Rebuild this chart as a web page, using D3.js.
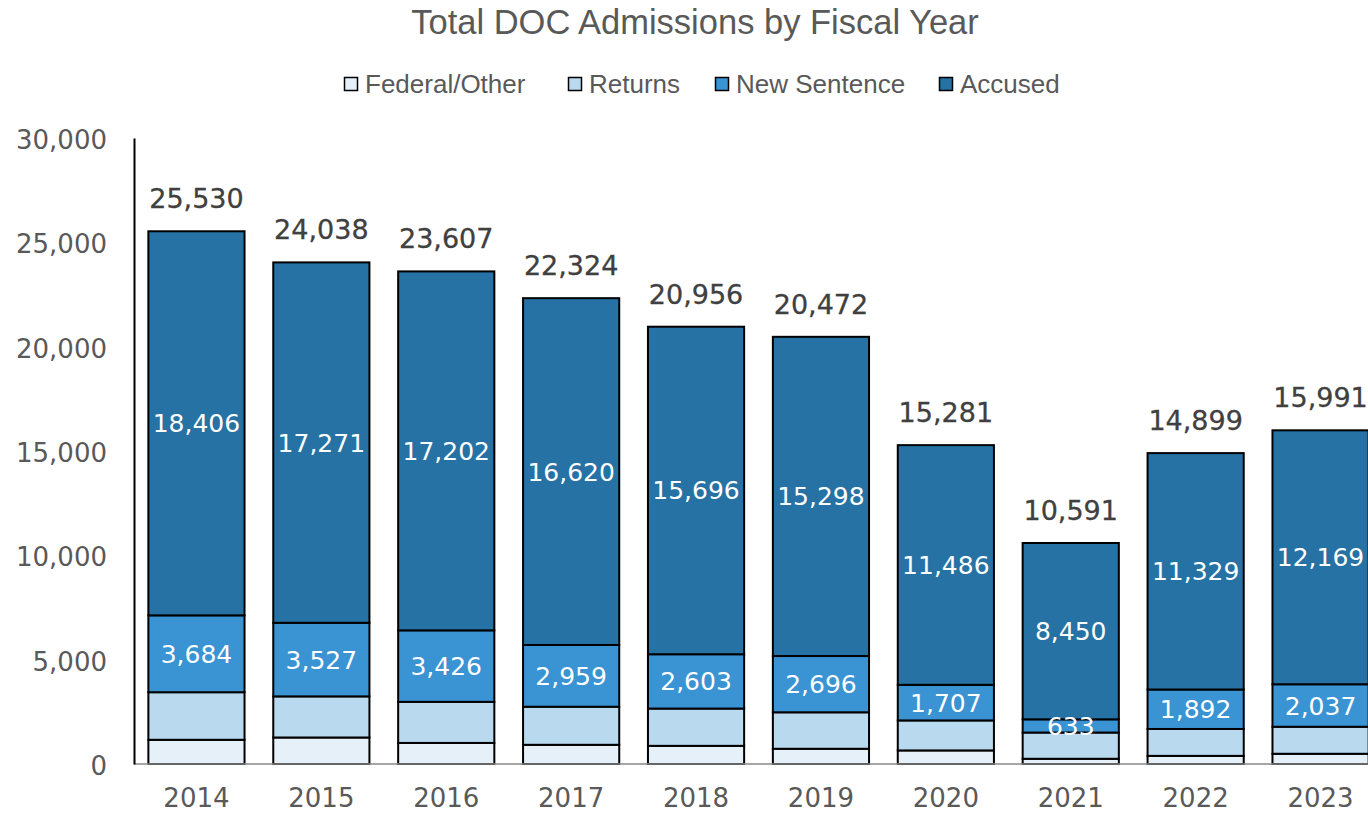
<!DOCTYPE html>
<html><head><meta charset="utf-8">
<script src="https://cdn.jsdelivr.net/npm/d3@7"></script>
<style>body{margin:0;background:#fff}svg{display:block}</style>
</head><body>
<svg id="c" width="1368" height="813"></svg>
<script>
const years = ["2014","2015","2016","2017","2018","2019","2020","2021","2022","2023"];
const federalOther = [1160,1270,1010,920,870,730,650,250,390,490];
const returns = [2280,1970,1969,1825,1787,1748,1438,1258,1288,1295];
const newSentence = [3684,3527,3426,2959,2603,2696,1707,633,1892,2037];
const accused = [18406,17271,17202,16620,15696,15298,11486,8450,11329,12169];
const totals = [25530,24038,23607,22324,20956,20472,15281,10591,14899,15991];
const seriesNames = ["Federal/Other","Returns","New Sentence","Accused"];
const seriesColors = ["#e6f0f8","#b9d9ee","#3a93d3","#2672a4"];
const yTicks = [0,5000,10000,15000,20000,25000,30000];

const svg = d3.select("#c");
const M = {left:134, right:1383, top:138, bottom:764};
const x = d3.scaleBand().domain(years).range([M.left, M.right]).paddingInner(0.23).paddingOuter(0.115);
const y = d3.scaleLinear().domain([0,30000]).range([M.bottom, M.top]);

const rows = years.map((yr,i)=>({year:yr, "Federal/Other":federalOther[i], "Returns":returns[i], "New Sentence":newSentence[i], "Accused":accused[i]}));
const stacked = d3.stack().keys(seriesNames)(rows);

// title
svg.append("text").attr("x",695).attr("y",34).attr("text-anchor","middle")
  .style("font-family","'Liberation Sans',sans-serif").style("font-size","34.5px").attr("fill","#595959")
  .text("Total DOC Admissions by Fiscal Year");

// legend
const legX = [344,568,715,939];
seriesNames.forEach((n,i)=>{
  const g = svg.append("g").attr("transform",`translate(${legX[i]},77)`);
  g.append("rect").attr("x",0.5).attr("y",0.5).attr("width",13).attr("height",13).attr("fill",seriesColors[i]).attr("stroke","#000").attr("stroke-width",1.5);
  g.append("text").attr("x",21).attr("y",16).style("font-family","'Liberation Sans',sans-serif").style("font-size","26px").attr("fill","#595959").text(n);
});

// y axis
const yAxis = svg.append("g").attr("transform",`translate(${M.left},0)`)
  .call(d3.axisLeft(y).tickValues(yTicks).tickFormat(d3.format(",")).tickSize(0).tickPadding(27));
yAxis.select(".domain").attr("stroke","#000").attr("stroke-width",2);
yAxis.selectAll("text").attr("dy","0.4em").style("font-family","'DejaVu Sans',sans-serif").style("font-size","26px").attr("fill","#595959");

// bars
const layer = svg.append("g").selectAll("g").data(stacked).join("g").attr("fill",(d,i)=>seriesColors[i]);
layer.selectAll("rect").data(d=>d).join("rect")
  .attr("x",d=>x(d.data.year)).attr("width",x.bandwidth())
  .attr("y",d=>y(d[1])).attr("height",d=>y(d[0])-y(d[1]))
  .attr("stroke","#000").attr("stroke-width",2);

// x axis
const xAxis = svg.append("g").attr("transform",`translate(0,${M.bottom})`)
  .call(d3.axisBottom(x).tickSize(0).tickPadding(25));
xAxis.select(".domain").attr("stroke","#888").attr("stroke-width",1.5).attr("d",`M${M.left},0H1368`);
xAxis.selectAll("text").style("font-family","'DejaVu Sans',sans-serif").style("font-size","26px").attr("fill","#595959");
yAxis.raise();

// inner labels
const labelSeries = [{vals:newSentence, idx:2},{vals:accused, idx:3}];
labelSeries.forEach(s=>{
  svg.append("g").selectAll("text").data(stacked[s.idx]).join("text")
    .attr("x",d=>x(d.data.year)+x.bandwidth()/2).attr("y",d=>(y(d[0])+y(d[1]))/2)
    .attr("dy","0.36em").attr("text-anchor","middle")
    .style("font-family","'DejaVu Sans',sans-serif").style("font-size","25px").attr("fill","#fff")
    .text(d=>d3.format(",")(d[1]-d[0]));
});

// totals
svg.append("g").selectAll("text").data(years).join("text")
  .attr("x",d=>x(d)+x.bandwidth()/2).attr("y",(d,i)=>y(totals[i])-23)
  .attr("text-anchor","middle")
  .style("font-family","'DejaVu Sans',sans-serif").style("font-size","27px").attr("fill","#404040")
  .attr("stroke","#404040").attr("stroke-width",0.3)
  .text((d,i)=>d3.format(",")(totals[i]));
</script>
</body></html>
